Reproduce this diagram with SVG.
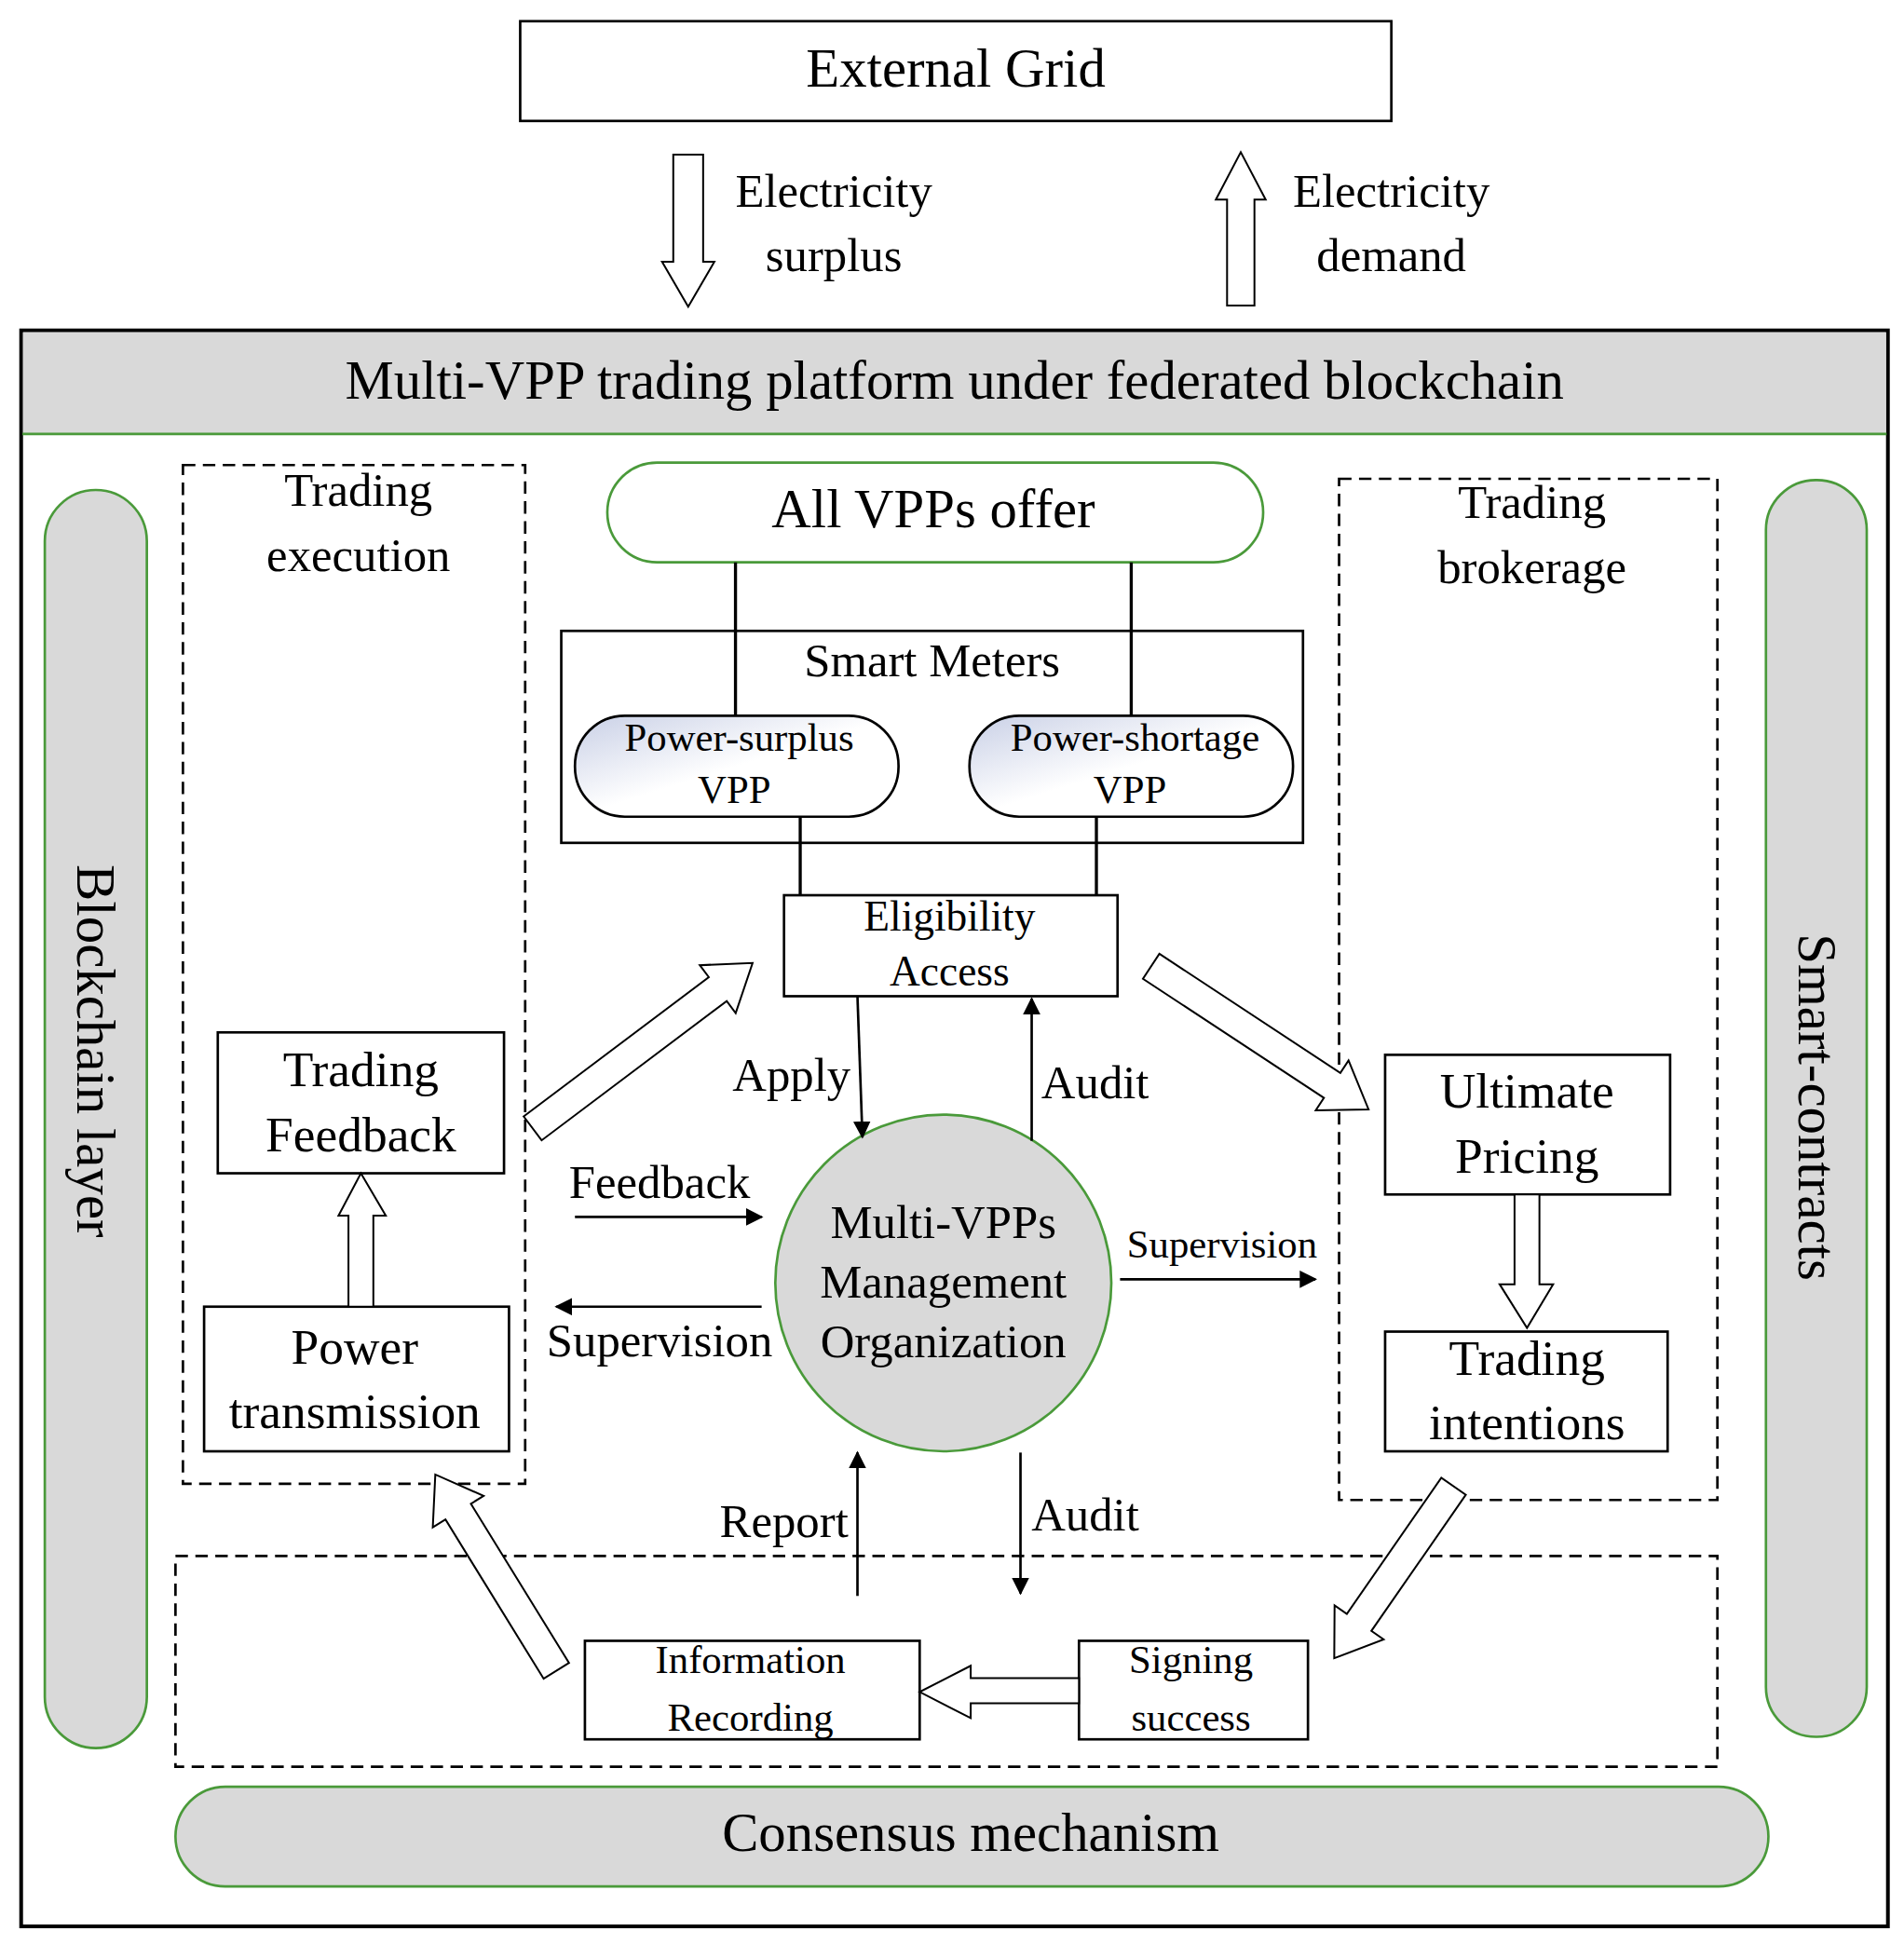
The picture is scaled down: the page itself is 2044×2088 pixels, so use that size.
<svg xmlns="http://www.w3.org/2000/svg" width="2044" height="2088" viewBox="0 0 2044 2088">
<defs>
<linearGradient id="vg" x1="0" y1="0" x2="1" y2="1"><stop offset="0" stop-color="#c9d0e6"/><stop offset="0.5" stop-color="#ffffff"/><stop offset="1" stop-color="#ffffff"/></linearGradient>
<marker id="ah" viewBox="0 0 10 10" refX="9" refY="5" markerWidth="14" markerHeight="14" markerUnits="userSpaceOnUse" orient="auto"><path d="M0,0 L10,5 L0,10 Z" fill="#000"/></marker>
</defs>
<style>
text{font-family:"Liberation Serif","Times New Roman",serif;fill:#000;text-anchor:middle;dominant-baseline:central}
.b{fill:#fff;stroke:#000;stroke-width:2}
.d{fill:none;stroke:#000;stroke-width:2;stroke-dasharray:10,6}
.g{fill:#d9d9d9;stroke:#4a9a3a;stroke-width:2}
.h{fill:#fff;stroke:#000;stroke-width:1.5}
.l{stroke:#000;stroke-width:2.5;fill:none}
.a{stroke:#000;stroke-width:2;fill:none;marker-end:url(#ah)}
.t44{font-size:44px}.t40{font-size:40px}.t38{font-size:38px}.t34{font-size:34px}.t32{font-size:32px}
</style>
<rect width="2044" height="2088" fill="#fff"/>
<g transform="scale(1.336,1.3385)">
<g id="external-grid"><rect class="b" x="418" y="17" width="700" height="80"/><text class="t44" x="768" y="55">External Grid</text></g>
<g id="platform"><rect x="17" y="265" width="1500" height="1280" fill="#fff" stroke="#000" stroke-width="3"/><rect x="18.5" y="266.5" width="1497" height="81.5" fill="#d9d9d9"/><line x1="18" y1="348" x2="1516" y2="348" stroke="#4a9a3a" stroke-width="2"/><text class="t44" x="767" y="305">Multi-VPP trading platform under federated blockchain</text></g>
<g id="blockchain-layer"><rect class="g" x="36" y="393" width="82" height="1009" rx="41"/><text class="t44" transform="translate(77,843) rotate(90)">Blockchain layer</text></g>
<g id="smart-contracts"><rect class="g" x="1419" y="385" width="81" height="1008" rx="40"/><text class="t44" transform="translate(1460,888) rotate(90)">Smart-contracts</text></g>
<g id="consensus"><rect class="g" x="141" y="1433" width="1280" height="80" rx="40"/><text class="t44" x="780" y="1470">Consensus mechanism</text></g>
<g id="trading-execution"><rect class="d" x="147" y="373" width="275" height="817"/><text class="t38" x="288" y="393">Trading</text><text class="t38" x="288" y="445">execution</text></g>
<g id="trading-brokerage"><rect class="d" x="1076" y="384" width="304" height="819"/><text class="t38" x="1231" y="403">Trading</text><text class="t38" x="1231" y="455">brokerage</text></g>
<g id="recording-area"><rect class="d" x="141" y="1248" width="1239" height="169"/></g>
<g id="all-vpps"><rect x="488" y="371" width="527" height="80" rx="40" fill="#fff" stroke="#4a9a3a" stroke-width="2"/><text class="t44" x="750" y="408">All VPPs offer</text></g>
<g id="smart-meters"><rect class="b" x="451" y="506" width="596" height="170"/><text class="t38" x="749" y="530">Smart Meters</text></g>
<g id="power-surplus-vpp"><rect x="462" y="574" width="260" height="81" rx="40" fill="url(#vg)" stroke="#000" stroke-width="2"/><text class="t32" x="594" y="591">Power-surplus</text><text class="t32" x="590" y="633">VPP</text></g>
<g id="power-shortage-vpp"><rect x="779" y="574" width="260" height="81" rx="40" fill="url(#vg)" stroke="#000" stroke-width="2"/><text class="t32" x="912" y="591">Power-shortage</text><text class="t32" x="908" y="633">VPP</text></g>
<g id="eligibility"><rect class="b" x="630" y="718" width="268" height="81"/><text class="t34" x="763" y="735">Eligibility</text><text class="t34" x="763" y="779">Access</text></g>
<g id="trading-feedback"><rect class="b" x="175" y="828" width="230" height="113"/><text class="t40" x="290" y="858">Trading</text><text class="t40" x="290" y="910">Feedback</text></g>
<g id="power-transmission"><rect class="b" x="164" y="1048" width="245" height="116"/><text class="t40" x="285" y="1080">Power</text><text class="t40" x="285" y="1132">transmission</text></g>
<g id="ultimate-pricing"><rect class="b" x="1113" y="846" width="229" height="112"/><text class="t40" x="1227" y="875">Ultimate</text><text class="t40" x="1227" y="927">Pricing</text></g>
<g id="trading-intentions"><rect class="b" x="1113" y="1068" width="227" height="96"/><text class="t40" x="1227" y="1089">Trading</text><text class="t40" x="1227" y="1141">intentions</text></g>
<g id="management"><circle cx="758" cy="1029" r="135" fill="#d9d9d9" stroke="#4a9a3a" stroke-width="2"/><text class="t38" x="758" y="980">Multi-VPPs</text><text class="t38" x="758" y="1028">Management</text><text class="t38" x="758" y="1076">Organization</text></g>
<g id="info-recording"><rect class="b" x="470" y="1316" width="269" height="79"/><text class="t32" x="603" y="1331">Information</text><text class="t32" x="603" y="1377">Recording</text></g>
<g id="signing-success"><rect class="b" x="867" y="1316" width="184" height="79"/><text class="t32" x="957" y="1331">Signing</text><text class="t32" x="957" y="1377">success</text></g>
<g id="connectors">
<path class="h" d="M541,124 L565,124 L565,210 L574,210 L553,246 L532,210 L541,210 Z"/>
<text class="t38" x="670" y="153">Electricity</text><text class="t38" x="670" y="205">surplus</text>
<path class="h" d="M986,245 L1008,245 L1008,160 L1017,160 L997,122 L977,160 L986,160 Z"/>
<text class="t38" x="1118" y="153">Electricity</text><text class="t38" x="1118" y="205">demand</text>
<line class="l" x1="591" y1="451" x2="591" y2="574"/><line class="l" x1="909" y1="451" x2="909" y2="574"/>
<line class="l" x1="643" y1="655" x2="643" y2="718"/><line class="l" x1="881" y1="655" x2="881" y2="718"/>
<path class="h" d="M280,1048 L300,1048 L300,975 L310,975 L290,941 L272,975 L280,975 Z"/>
<path class="h" d="M1217,958 L1237,958 L1237,1030 L1248,1030 L1227,1065 L1205,1030 L1217,1030 Z"/>
<path class="h" d="M867,1346 L867,1366 L780,1366 L780,1378 L739,1357 L780,1336 L780,1346 Z"/>
<path class="h" transform="translate(428,905) rotate(-36.9)" d="M0,-12 L186,-12 L186,-24 L221,0 L186,24 L186,12 L0,12 Z"/>
<path class="h" transform="translate(925,775) rotate(33.3)" d="M0,-12 L174,-12 L174,-24 L209,0 L174,24 L174,12 L0,12 Z"/>
<path class="h" transform="translate(1168,1192) rotate(124.8)" d="M0,-12 L133,-12 L133,-24 L168,0 L133,24 L133,12 L0,12 Z"/>
<path class="h" transform="translate(447,1340) rotate(-121.7)" d="M0,-12 L150,-12 L150,-24 L185,0 L150,24 L150,12 L0,12 Z"/>
<line class="a" x1="689" y1="799" x2="693" y2="912"/><text class="t38" x="636" y="862">Apply</text>
<line class="a" x1="829" y1="915" x2="829" y2="801"/><text class="t38" x="880" y="868">Audit</text>
<line class="a" x1="462" y1="976" x2="612" y2="976"/><text class="t38" x="530" y="948">Feedback</text>
<line class="a" x1="612" y1="1048" x2="447" y2="1048"/><text class="t38" x="530" y="1075">Supervision</text>
<line class="a" x1="900" y1="1026" x2="1057" y2="1026"/><text class="t32" x="982" y="998">Supervision</text>
<line class="a" x1="689" y1="1280" x2="689" y2="1165"/><text class="t38" x="630" y="1220">Report</text>
<line class="a" x1="820" y1="1165" x2="820" y2="1278"/><text class="t38" x="872" y="1215">Audit</text>
</g>
</g>
</svg>
